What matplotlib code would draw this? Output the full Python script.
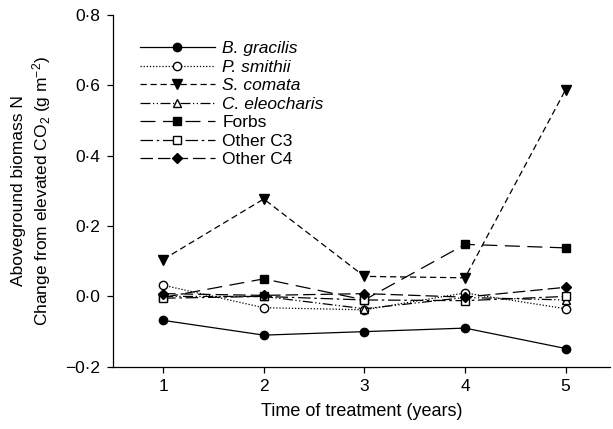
import matplotlib
matplotlib.use("Agg")
import matplotlib.pyplot as plt
from matplotlib.ticker import FuncFormatter

plt.rcParams["font.family"] = ["Liberation Sans", "DejaVu Sans"]
plt.rcParams["mathtext.fontset"] = "custom"
plt.rcParams["mathtext.rm"] = "Liberation Sans"
plt.rcParams["mathtext.it"] = "Liberation Sans:italic"

# Data
years = [1, 2, 3, 4, 5]
b_gracilis = [-0.068, -0.110, -0.100, -0.090, -0.148]
p_smithii = [0.032, -0.032, -0.038, 0.010, -0.035]
s_comata = [0.105, 0.277, 0.057, 0.053, 0.588]
c_eleocharis = [0.000, 0.000, -0.035, -0.003, -0.010]
forbs = [-0.003, 0.050, -0.010, 0.148, 0.138]
other_c3 = [-0.005, 0.000, -0.010, -0.012, 0.000]
other_c4 = [0.008, 0.003, 0.008, -0.002, 0.026]

y_ticks = [-0.2, 0.0, 0.2, 0.4, 0.6, 0.8]

fig = plt.figure(figsize=(6.13, 4.29), dpi=100)
ax = fig.add_axes([0.184, 0.145, 0.811, 0.82])

lw = 0.9
ms = 6
ax.plot(years, b_gracilis, color="black", lw=lw, ls="-", marker="o", ms=ms,
        mfc="black", label="B. gracilis")
ax.plot(years, p_smithii, color="black", lw=lw, ls=(0, (1, 1.5)), marker="o", ms=ms,
        mfc="white", label="P. smithii")
ax.plot(years, s_comata, color="black", lw=lw, ls=(0, (5, 3)), marker="v", ms=ms + 1,
        mfc="black", label="S. comata")
ax.plot(years, c_eleocharis, color="black", lw=lw, ls=(0, (8, 2, 1, 2, 1, 2)),
        marker="^", ms=ms, mfc="white", label="C. eleocharis")
ax.plot(years, forbs, color="black", lw=lw, ls=(0, (12, 6)), marker="s", ms=ms,
        mfc="black", label="Forbs")
ax.plot(years, other_c3, color="black", lw=lw, ls=(0, (10, 3, 2, 3)), marker="s", ms=ms,
        mfc="white", label="Other C3")
ax.plot(years, other_c4, color="black", lw=lw, ls=(0, (10, 4)), marker="D", ms=ms - 0.5,
        mfc="black", label="Other C4")

ax.set_xlim(0.5, 5.44)
ax.set_ylim(-0.2, 0.8)
ax.set_xticks(years)
ax.set_yticks(y_ticks)
ax.yaxis.set_major_formatter(FuncFormatter(
    lambda v, p: ("\u2212" if v < -1e-9 else "") + f"{abs(v):.1f}".replace(".", "\u00b7")))

for side in ["top", "right"]:
    ax.spines[side].set_visible(False)
for side in ["left", "bottom"]:
    ax.spines[side].set_linewidth(0.9)
ax.tick_params(direction="out", length=4, width=0.9, labelsize=12.5, pad=5)

ax.set_xlabel("Time of treatment (years)", fontsize=13, labelpad=6)
ax.set_ylabel("Aboveground biomass N\nChange from elevated CO$_2$ (g m$^{-2}$)",
              fontsize=12.5, labelpad=9, linespacing=1.25)

leg = ax.legend(loc="upper left", bbox_to_anchor=(0.03, 0.96), frameon=False,
                fontsize=12.5, handlelength=4.3, handletextpad=0.45, labelspacing=0.19,
                borderpad=0.2)
# species names in italics
for t in leg.get_texts()[:4]:
    t.set_fontstyle("italic")

fig.savefig("out.png", dpi=100)
